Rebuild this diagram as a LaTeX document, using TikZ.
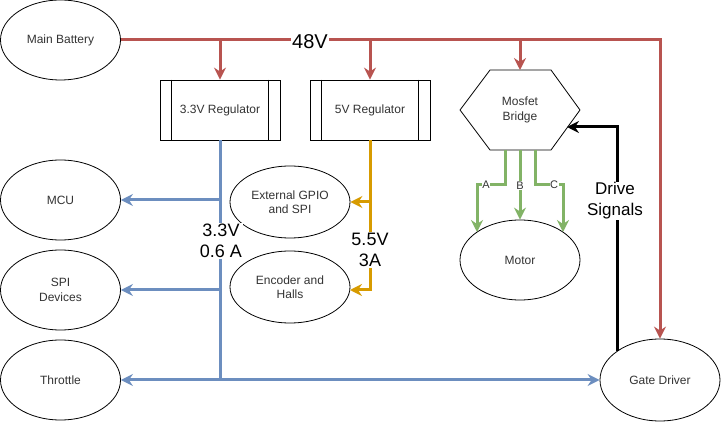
\documentclass[tikz,border=0pt]{standalone}
\usepackage{fontspec}
\setmainfont{Liberation Sans}
\usetikzlibrary{arrows.meta,shapes.geometric,calc}
\definecolor{cred}{HTML}{B85450}
\definecolor{cblue}{HTML}{6C8EBF}
\definecolor{corange}{HTML}{D79B00}
\definecolor{cgreen}{HTML}{82B366}
\definecolor{ctext}{HTML}{333333}
\begin{document}
\begin{tikzpicture}[x=1pt,y=-1pt,
  every node/.style={font=\fontsize{12}{14.5}\selectfont, text=ctext},
  ell/.style={draw, ellipse, line width=0.8pt, minimum width=120pt, minimum height=80pt, inner sep=0pt, align=center},
  regbox/.style={draw, rectangle, line width=0.8pt, minimum width=120pt, minimum height=60pt, inner sep=0pt},
  arr/.style={-{Stealth[length=12pt,width=12pt,inset=4pt]}},
  wirel/.style={line width=3pt},
  lbl/.style={fill=white, inner sep=1pt, font=\fontsize{18}{21}\selectfont, text=black, align=center},
  slbl/.style={fill=white, inner sep=0.5pt, font=\fontsize{11}{12}\selectfont}
]
\useasboundingbox (0,0) rectangle (721,422);
\fill[white] (0,0) rectangle (721,422);

% nodes
\node[ell] (bat) at (60.5,40) {Main Battery};
\node[ell] (mcu) at (60.5,200) {MCU};
\node[ell] (spi) at (60.5,290) {SPI\\Devices};
\node[ell] (thr) at (60.5,380) {Throttle};
\node[ell, minimum height=72pt] (gpio) at (290,202) {External GPIO\\and SPI};
\node[ell, minimum height=72pt] (enc) at (290,287) {Encoder and\\Halls};
\node[ell] (motor) at (520,260) {Motor};
\node[ell, minimum height=82pt] (gate) at (660,380) {Gate Driver};

\node[regbox] (r33) at (220,110) {3.3V Regulator};
\draw[line width=0.8pt] (r33.north west) ++(12,0) -- ++(0,60);
\draw[line width=0.8pt] (r33.north east) ++(-12,0) -- ++(0,60);
\node[regbox] (r5) at (370,110) {5V Regulator};
\draw[line width=0.8pt] (r5.north west) ++(12,0) -- ++(0,60);
\draw[line width=0.8pt] (r5.north east) ++(-12,0) -- ++(0,60);

\draw[line width=0.8pt] (460,110) -- (490,70) -- (551,70) -- (580,110) -- (551,150) -- (490,150) -- cycle;
\node[align=center] (bridge) at (520,110) {Mosfet\\Bridge};
\coordinate (hTop) at (520,70);
\coordinate (hR) at (567,127);
\coordinate (hA) at (505,150);
\coordinate (hB) at (520,150);
\coordinate (hC) at (535,150);
\coordinate (mA) at (477,232);
\coordinate (mC) at (563,232);
\coordinate (encIn) at (350,290);

% red 48V
\draw[wirel, cred, arr] (bat.east) -| (gate.north);
\draw[wirel, cred, arr] (r33.north |- bat.east) -- (r33.north);
\draw[wirel, cred, arr] (r5.north |- bat.east) -- (r5.north);
\draw[wirel, cred, arr] (hTop |- bat.east) -- (hTop);

% blue 3.3V
\draw[wirel, cblue] (r33.south) -- (r33.south |- thr.east);
\draw[wirel, cblue, arr] (r33.south |- mcu.east) -- (mcu.east);
\draw[wirel, cblue, arr] (r33.south |- spi.east) -- (spi.east);
\draw[wirel, cblue, {Stealth[length=12pt,width=12pt,inset=4pt]}-{Stealth[length=12pt,width=12pt,inset=4pt]}] (thr.east) -- (gate.west);

% orange 5V
\draw[wirel, corange, arr] (r5.south) |- (encIn);
\draw[wirel, corange, arr] (r5.south |- gpio.east) -- (gpio.east);

% black drive signals
\draw[wirel, black, arr] (gate.north west) |- (hR);

% green phases
\draw[wirel, cgreen, arr] (hA) -- ++(0,35) -| node[slbl, pos=0.34] {A} (mA);
\draw[wirel, cgreen, arr] (hB) -- node[slbl, pos=0.51] {B} (motor.north);
\draw[wirel, cgreen, arr] (hC) -- ++(0,35) -| node[slbl, pos=0.34] {C} (mC);

% labels
\node[lbl, font=\fontsize{20}{22}\selectfont] (v48) at (310,42) {48V};
\node[lbl] (v33) at (221,241) {3.3V\\0.6 A};
\node[lbl] (v55) at (370,250) {5.5V\\3A};
\node[lbl, font=\fontsize{17}{21}\selectfont] (drv) at (615,201) {Drive\\Signals};
\end{tikzpicture}
\end{document}
